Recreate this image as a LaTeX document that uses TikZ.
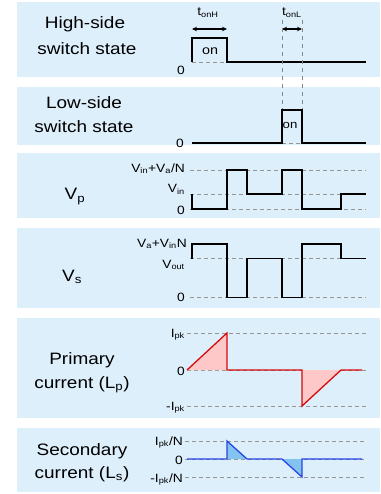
\documentclass[tikz,border=0pt]{standalone}
\usepackage{fontspec}
\setmainfont[FakeStretch=1.15]{Liberation Sans}
\usetikzlibrary{arrows.meta}
\definecolor{panelblue}{RGB}{222,239,252}
\definecolor{levelgray}{RGB}{150,150,150}
\definecolor{curred}{RGB}{215,10,10}
\definecolor{curpink}{RGB}{255,200,200}
\definecolor{curblue}{RGB}{40,70,230}
\definecolor{curlblue}{RGB}{130,195,240}
\newcommand{\sbs}[1]{\textsubscript{#1}}
\begin{document}
\begin{tikzpicture}[x=1pt,y=-1pt,
  panelbox/.style={fill=panelblue,draw=none},
  biglbl/.style={font=\fontsize{16.5}{20}\selectfont,inner sep=0pt,anchor=base},
  smalllbl/.style={font=\fontsize{12}{14}\selectfont,inner sep=0pt,anchor=base east},
  onlbl/.style={font=\fontsize{12.5}{14}\selectfont,inner sep=0pt,anchor=base},
  levelline/.style={draw=levelgray,dash pattern=on 4pt off 3pt,line width=0.9pt},
  guideline/.style={draw=levelgray!90!black,dash pattern=on 4pt off 4pt,line width=0.7pt},
  wave/.style={line width=1.5pt,line join=miter},
  dimarrow/.style={line width=1.3pt,{Stealth[length=5pt,width=4.5pt]}-{Stealth[length=5pt,width=4.5pt]}}]
\useasboundingbox (0,0) rectangle (380,494);
\fill[white] (0,0) rectangle (380,494);
% panels
\fill[panelbox] (17,2) rectangle (380,77);
\fill[panelbox] (17,87) rectangle (380,145);
\fill[panelbox] (17,153) rectangle (380,218);
\fill[panelbox] (17,228) rectangle (380,308);
\fill[panelbox] (17,318) rectangle (380,418);
\fill[panelbox] (17,428) rectangle (380,492);

% ---------- panel 1: high-side switch
\node[biglbl] (hs1) at (85,29) {High-side};
\node[biglbl] (hs2) at (87,55) {switch state};
\node[smalllbl] (hz) at (185,75) {0};
\draw[levelline] (192,62) -- (227,62);
\draw[wave] (192,62) -- (192,38) -- (227,38) -- (227,62) -- (366,62);
\node[onlbl] (hon) at (210,55) {on};
\draw[dimarrow] (192,29) -- (227,29);
\node[font=\fontsize{12}{14}\selectfont,inner sep=0pt,anchor=base] (tonh) at (208,16) {t\sbs{onH}};
\draw[dimarrow] (282,29) -- (302,29);
\node[font=\fontsize{12}{14}\selectfont,inner sep=0pt,anchor=base] (tonl) at (292,16) {t\sbs{onL}};
\coordinate (gA1) at (282,20);
\coordinate (gA2) at (282,110);
\coordinate (gB1) at (302,20);
\coordinate (gB2) at (302,110);
\draw[guideline] (gA1) -- (gA2);
\draw[guideline] (gB1) -- (gB2);

% ---------- panel 2: low-side switch
\node[biglbl] (ls1) at (84,109) {Low-side};
\node[biglbl] (ls2) at (84,133) {switch state};
\node[smalllbl] (lz) at (184,148) {0};
\draw[levelline] (282,143) -- (302,143);
\draw[wave] (192,143) -- (282,143) -- (282,110) -- (302,110) -- (302,143) -- (366,143);
\node[font=\fontsize{11.5}{14}\selectfont,inner sep=0pt,anchor=base] (lon) at (290,129) {on};

% ---------- panel 3: Vp
\node[biglbl] (vp) at (75,200) {V\sbs{p}};
\draw[levelline] (190,170) -- (366,170);
\draw[levelline] (190,194) -- (366,194);
\draw[levelline] (190,209) -- (366,209);
\node[smalllbl] (vpa) at (185,172) {V\sbs{in}+V\sbs{a}/N};
\node[smalllbl] (vpb) at (185,193) {V\sbs{in}};
\node[smalllbl] (vpc) at (185,214) {0};
\draw[wave] (192,194) -- (192,209) -- (227,209) -- (227,170) -- (247,170) -- (247,194) -- (282,194) -- (282,170) -- (302,170) -- (302,209) -- (341,209) -- (341,194) -- (366,194);

% ---------- panel 4: Vs
\node[biglbl] (vs) at (72,281) {V\sbs{s}};
\draw[levelline] (190,258.5) -- (366,258.5);
\draw[levelline] (190,297.5) -- (366,297.5);
\node[smalllbl] (vsa) at (187,247) {V\sbs{a}+V\sbs{in}N};
\node[smalllbl] (vsb) at (185,268) {V\sbs{out}};
\node[smalllbl] (vsc) at (185,301) {0};
\draw[wave] (192,258.5) -- (192,244) -- (227,244) -- (227,297.5) -- (247,297.5) -- (247,258.5) -- (282,258.5) -- (282,297.5) -- (302,297.5) -- (302,244) -- (341,244) -- (341,258.5) -- (366,258.5);

% ---------- panel 5: primary current
\node[biglbl] (pc1) at (82,364) {Primary};
\node[biglbl] (pc2) at (82,388) {current (L\sbs{p})};
\draw[levelline] (187,333) -- (366,333);
\draw[levelline] (187,370) -- (366,370);
\draw[levelline] (187,406) -- (366,406);
\node[smalllbl] (pca) at (185,337) {I\sbs{pk}};
\node[smalllbl] (pcb) at (185,375) {0};
\node[smalllbl] (pcc) at (185,410) {-I\sbs{pk}};
\fill[curpink] (187,370) -- (227,333) -- (227,370) -- cycle;
\fill[curpink] (302,370) -- (302,406) -- (341,370) -- cycle;
\draw[curred,line width=1.3pt,line join=miter] (187,370) -- (227,333) -- (227,370) -- (302,370) -- (302,406) -- (341,370) -- (362,370);

% ---------- panel 6: secondary current
\node[biglbl] (sc1) at (82,455) {Secondary};
\node[biglbl] (sc2) at (82,478) {current (L\sbs{s})};
\draw[levelline] (185,441) -- (366,441);
\draw[levelline] (185,459) -- (366,459);
\draw[levelline] (185,477) -- (366,477);
\node[smalllbl] (sca) at (183,445) {I\sbs{pk}/N};
\node[smalllbl] (scb) at (183,464) {0};
\node[smalllbl] (scc) at (183,482) {-I\sbs{pk}/N};
\fill[curlblue] (227,459) -- (227,441) -- (247,459) -- cycle;
\fill[curlblue] (282,459) -- (302,477) -- (302,459) -- cycle;
\draw[curblue,line width=1.3pt,line join=miter] (187,459) -- (227,459) -- (227,441) -- (247,459) -- (282,459) -- (302,477) -- (302,459) -- (362,459);
\end{tikzpicture}
\end{document}
